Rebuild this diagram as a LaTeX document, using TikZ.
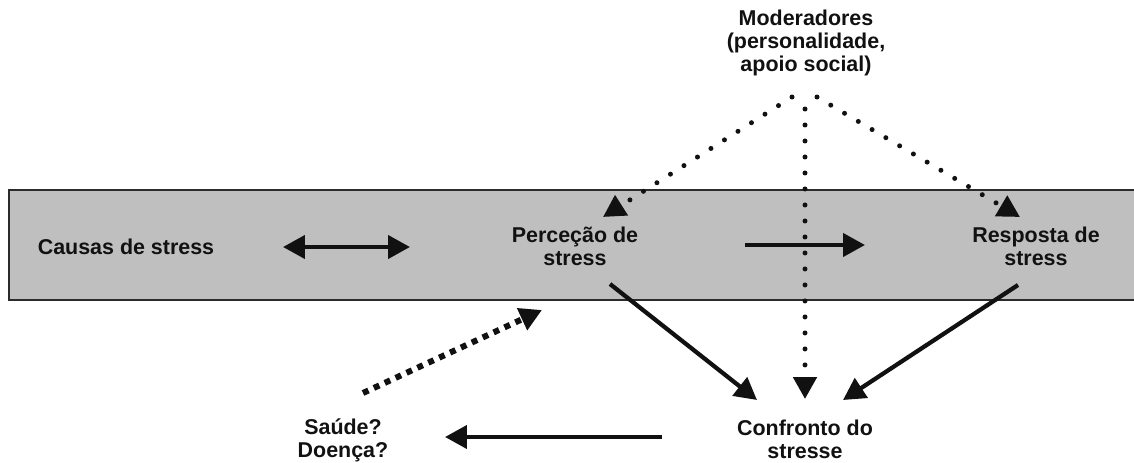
\documentclass[tikz,border=0pt]{standalone}
\usepackage{fontspec}
\setmainfont{Liberation Sans}
\usetikzlibrary{arrows.meta}
\definecolor{band}{HTML}{BFBFBF}
\definecolor{edge}{HTML}{2B2B2B}
\definecolor{ink}{HTML}{111111}

\begin{document}
\begin{tikzpicture}[x=0.02cm,y=-0.02cm,
  every node/.style={font=\bfseries\fontsize{12.2}{13.1}\selectfont,text=ink,align=center,inner sep=1pt},
  tip/.style={-{Triangle[length=0.44cm,width=0.46cm]}},
  bothtips/.style={{Triangle[length=0.44cm,width=0.46cm]}-{Triangle[length=0.44cm,width=0.46cm]}},
  solidarrow/.style={tip,draw=ink,line width=0.085cm},
  dotarrow/.style={tip,draw=ink,line width=0.1cm,line cap=round,dash pattern=on 0pt off 0.32cm},
  squarearrow/.style={tip,draw=ink,line width=0.12cm,dash pattern=on 0.12cm off 0.12cm}]
\useasboundingbox (0,0) rectangle (1134,463);
\draw[fill=band,draw=edge,line width=0.04cm] (9,190) rectangle (1140,300);
% texts
\node (causas) at (126,247) {Causas de stress};
\node (perc) at (575,246) {Perceção de\\stress};
\node (resp) at (1036,246) {Resposta de\\stress};
\node (mod) at (806,43) {Moderadores\\(personalidade,\\apoio social)};
\node (conf) at (805,439) {Confronto do\\stresse};
\node (saude) at (343,440) {Saúde?\\Doença?};
% arrow ends
\coordinate (causasR) at (283,247);
\coordinate (percL) at (410,247);
\coordinate (percR) at (745,245);
\coordinate (respL) at (865,245);
\coordinate (percB) at (610,284);
\coordinate (respB) at (1018,285);
\coordinate (confTL) at (757,400);
\coordinate (confT) at (805,399);
\coordinate (confTR) at (843,400);
\coordinate (confL) at (662,437);
\coordinate (saudeR) at (445,437);
\coordinate (saudeT) at (363,393);
\coordinate (percBL) at (542,310);
\coordinate (modL) at (792,97);
\coordinate (modM) at (805,109);
\coordinate (modR) at (817,97);
\coordinate (percT) at (603,217);
\coordinate (respT) at (1020,217);
% connectors
\draw[solidarrow,bothtips] (causasR) -- (percL);
\draw[solidarrow] (percR) -- (respL);
\draw[solidarrow] (percB) -- (confTL);
\draw[solidarrow] (respB) -- (confTR);
\draw[solidarrow] (confL) -- (saudeR);
\draw[squarearrow] (saudeT) -- (percBL);
\draw[dotarrow] (modL) -- (percT);
\draw[dotarrow] (modM) -- (confT);
\draw[dotarrow] (modR) -- (respT);
\end{tikzpicture}
\end{document}
